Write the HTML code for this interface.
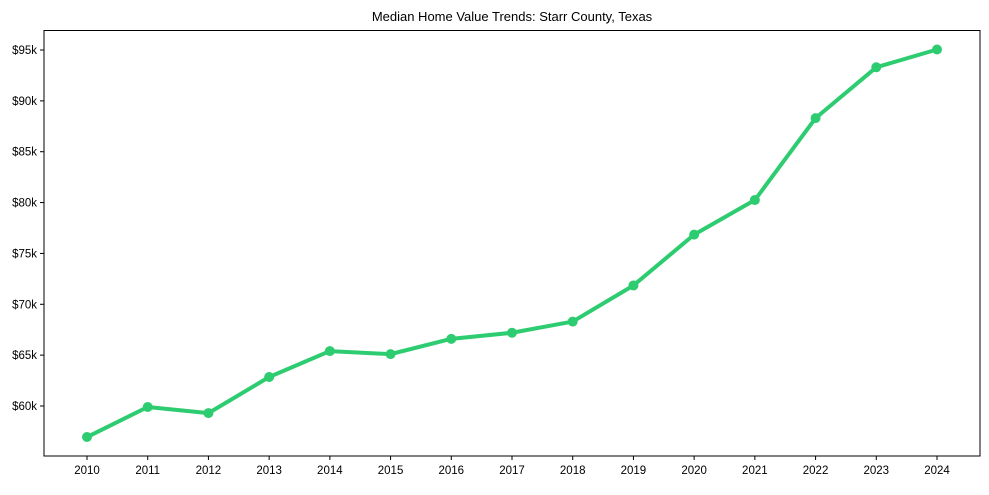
<!DOCTYPE html>
<html><head><meta charset="utf-8"><style>
body{margin:0;background:#fff;}
svg text{font-family:"Liberation Sans",Arial,sans-serif;fill:#000;}
</style></head><body>
<svg id="chart" width="989" height="490"></svg>
<script>
const years=[2010,2011,2012,2013,2014,2015,2016,2017,2018,2019,2020,2021,2022,2023,2024];
const values=[56.95,59.9,59.3,62.85,65.4,65.1,66.6,67.2,68.3,71.85,76.85,80.25,88.3,93.3,95.05];
const yTicks=[60,65,70,75,80,85,90,95];
const L=44,R=980,T=30.5,B=456;
const x=i=>87+i*(937-87)/14;
const y=v=>406-(v-60)*(406-50)/35;
const svg=document.getElementById('chart');
const NS='http://www.w3.org/2000/svg';
function mk(t,a){const e=document.createElementNS(NS,t);for(const k in a)e.setAttribute(k,a[k]);svg.appendChild(e);return e;}
const title=mk('text',{x:(L+R)/2,y:21,'text-anchor':'middle','font-size':13});
title.textContent='Median Home Value Trends: Starr County, Texas';


const frame=mk('rect',{x:L,y:T,width:R-L,height:B-T,fill:'none',stroke:'#000','stroke-width':1});


yTicks.forEach(v=>{
  const tk=mk('line',{x1:L-4,x2:L,y1:y(v),y2:y(v),stroke:'#000'});
  
  
  const t=mk('text',{x:L-7,y:y(v)+4,'text-anchor':'end','font-size':11.5});
  t.textContent='$'+v+'k';
  
  
});
years.forEach((yr,i)=>{
  const tk=mk('line',{x1:x(i),x2:x(i),y1:B,y2:B+4,stroke:'#000'});
  
  
  const t=mk('text',{x:x(i),y:B+18,'text-anchor':'middle','font-size':11.5});
  t.textContent=yr;
  
  
});
const line=mk('polyline',{points:values.map((v,i)=>x(i)+','+y(v)).join(' '),fill:'none',stroke:'#2ecc71','stroke-width':4,'stroke-linejoin':'round'});


values.forEach((v,i)=>{
  const c=mk('circle',{cx:x(i),cy:y(v),r:5,fill:'#2ecc71'});
  
  
});
</script>
</body></html>
